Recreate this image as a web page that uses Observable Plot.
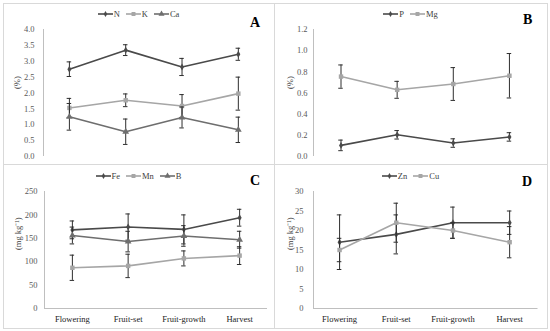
<!DOCTYPE html>
<html><head><meta charset="utf-8">
<script src="https://cdn.jsdelivr.net/npm/d3@7"></script>
<script src="https://cdn.jsdelivr.net/npm/@observablehq/plot@0.6"></script>
<style>
body{margin:0;background:#fff;}
#chart{position:relative;width:550px;height:331px;font-family:"Liberation Serif","Times New Roman",serif;background:#fff;overflow:hidden;}
.box{position:absolute;border:1px solid #d9d9d9;box-sizing:border-box;}
.panel{position:absolute;}
.panel text{font-family:"Liberation Serif","Times New Roman",serif !important;}
.letter{position:absolute;font-weight:bold;font-size:14px;line-height:14px;color:#000;}
.legend{position:absolute;display:flex;justify-content:center;align-items:center;font-size:8.5px;color:#404040;height:10px;}
.legend .item{display:flex;align-items:center;margin:0 3px;}
.legend svg{display:block;margin-right:1px;}
</style></head><body><div id="chart"></div>
<script>
// ---- data ----
const stages = ["Flowering", "Fruit-set", "Fruit-growth", "Harvest"];

// Panel A (%)
const N  = [2.75, 3.35, 2.82, 3.22];
const N_sd  = [0.23, 0.17, 0.27, 0.19];
const K  = [1.53, 1.77, 1.59, 1.98];
const K_sd  = [0.30, 0.20, 0.36, 0.52];
const Ca = [1.25, 0.78, 1.23, 0.84];
const Ca_sd = [0.42, 0.40, 0.33, 0.40];
const ticksA = [0, 0.5, 1, 1.5, 2, 2.5, 3, 3.5, 4];

// Panel B (%)
const P  = [0.105, 0.205, 0.127, 0.185];
const P_sd  = [0.05, 0.04, 0.04, 0.04];
const Mg = [0.755, 0.63, 0.685, 0.763];
const Mg_sd = [0.11, 0.08, 0.155, 0.21];
const ticksB = [0, 0.2, 0.4, 0.6, 0.8, 1.0, 1.2];

// Panel C (mg kg-1)
const Fe = [168, 174, 169, 194];
const Fe_sd = [19, 28, 31, 18];
const Mn = [87, 91, 107, 113];
const Mn_sd = [27, 25, 16, 19];
const Bo = [156, 143, 155, 147];
const Bo_sd = [18, 22, 22, 18];
const ticksC = [0, 50, 100, 150, 200, 250];

// Panel D (mg kg-1)
const Zn = [17, 19, 22, 22];
const Zn_sd = [7, 5, 4, 3];
const Cu = [15, 22, 20, 17];
const Cu_sd = [3, 5, 2, 4];
const ticksD = [0, 5, 10, 15, 20, 25, 30];

// ---- styles ----
const DARK = "#4a4a4a", MID = "#6e6e6e", LIGHT = "#a6a6a6", ERR = "#2e2e2e";
const FONT = "'Liberation Serif','Times New Roman',serif";

const panels = [
  {letter:"A", left:3, top:3, w:271, h:161, mt:26, mb:8, ml:40, mr:8, xd:[-0.46,3.5], yd:[0,4], ticks:ticksA, fmt:d=>d.toFixed(1), pad:9, xaxis:false,
   ylabel:"(%)", ldx:-26, ldy:-4, letterPos:[250,16], legendTop:9,
   series:[{name:"N",v:N,sd:N_sd,color:DARK,symbol:"diamond",r:2.1},
           {name:"K",v:K,sd:K_sd,color:LIGHT,symbol:"square",r:2.5},
           {name:"Ca",v:Ca,sd:Ca_sd,color:MID,symbol:"triangle",r:2.5}]},
  {letter:"B", left:274, top:3, w:273, h:161, mt:26, mb:8, ml:39, mr:10, xd:[-0.49,3.5], yd:[0,1.2], ticks:ticksB, fmt:d=>d.toFixed(1), pad:6, xaxis:false,
   ylabel:"(%)", ldx:-23, ldy:-4, letterPos:[523,13], legendTop:9,
   series:[{name:"P",v:P,sd:P_sd,color:DARK,symbol:"diamond",r:2.1},
           {name:"Mg",v:Mg,sd:Mg_sd,color:LIGHT,symbol:"square",r:2.5}]},
  {letter:"C", left:3, top:164, w:271, h:164, mt:27, mb:20, ml:41, mr:7, xd:[-0.5,3.5], yd:[0,250], ticks:ticksC, fmt:d=>String(d), pad:7, xaxis:true,
   ylabel:"(mg kg\u207B\u00B9)", ldx:-26, ldy:0, letterPos:[250,174], legendTop:171,
   series:[{name:"Fe",v:Fe,sd:Fe_sd,color:DARK,symbol:"diamond",r:2.1},
           {name:"Mn",v:Mn,sd:Mn_sd,color:LIGHT,symbol:"square",r:2.5},
           {name:"B",v:Bo,sd:Bo_sd,color:MID,symbol:"triangle",r:2.5}]},
  {letter:"D", left:274, top:164, w:273, h:164, mt:27, mb:20, ml:39, mr:9.5, xd:[-0.46,3.5], yd:[0,30], ticks:ticksD, fmt:d=>String(d), pad:10, xaxis:true,
   ylabel:"(mg kg\u207B\u00B9)", ldx:-23, ldy:0, letterPos:[522,175], legendTop:171,
   series:[{name:"Zn",v:Zn,sd:Zn_sd,color:DARK,symbol:"diamond",r:2.1},
           {name:"Cu",v:Cu,sd:Cu_sd,color:LIGHT,symbol:"square",r:2.5}]}
];

const chart = d3.select("#chart");
const symbolMap = {diamond:d3.symbolDiamond, square:d3.symbolSquare, triangle:d3.symbolTriangle};

for (const p of panels) {
  chart.append("div").attr("class","box")
    .style("left", p.left+"px").style("top", p.top+"px")
    .style("width", (p.w+1)+"px").style("height", (p.h+1)+"px");

  const marks = [];
  marks.push(Plot.axisY(p.ticks, {tickSize:0, tickPadding:p.pad, tickFormat:p.fmt, label:null, fill:"#595959", fontSize:8.5, fontFamily:FONT}));
  marks.push(Plot.ruleX([p.xd[0]], {stroke:"#bfbfbf", strokeWidth:1}));
  if (p.xaxis) {
    marks.push(Plot.ruleY([0], {stroke:"#bfbfbf", strokeWidth:1}));
    marks.push(Plot.axisX([0,1,2,3], {tickSize:0, tickPadding:7, tickFormat:i=>stages[i], label:null, fill:"#222", fontSize:8.5, fontFamily:FONT}));
  }
  marks.push(Plot.text([p.ylabel], {frameAnchor:"left", rotate:-90, dx:p.ldx, dy:p.ldy, fill:"#404040", fontSize:8.5, fontFamily:FONT}));

  for (const s of p.series) {
    const rows = stages.map((st,i)=>({i, stage:st, v:s.v[i], lo:s.v[i]-s.sd[i], hi:s.v[i]+s.sd[i]}));
    marks.push(Plot.line(rows, {x:"i", y:"v", stroke:s.color, strokeWidth:1.6}));
    marks.push(Plot.ruleX(rows, {x:"i", y1:"lo", y2:"hi", stroke:ERR, strokeWidth:1}));
    marks.push(Plot.ruleY(rows, {x1:d=>d.i-0.04, x2:d=>d.i+0.04, y:"lo", stroke:ERR, strokeWidth:1}));
    marks.push(Plot.ruleY(rows, {x1:d=>d.i-0.04, x2:d=>d.i+0.04, y:"hi", stroke:ERR, strokeWidth:1}));
    marks.push(Plot.dot(rows, {x:"i", y:"v", symbol:()=>s.symbol, fill:s.color, stroke:"none", r:s.r}));
  }

  const svg = Plot.plot({
    width:p.w, height:p.h,
    marginTop:p.mt, marginBottom:p.mb, marginLeft:p.ml, marginRight:p.mr,
    x:{type:"linear", domain:p.xd, axis:null},
    y:{domain:p.yd, axis:null},
    symbol:{type:"identity"},
    style:{fontFamily:FONT, fontSize:"8.5px", color:"#595959", background:"transparent", overflow:"visible"},
    marks
  });
  chart.append(()=>svg).attr("class","panel").style("left", p.left+"px").style("top", p.top+"px");

  const lg = chart.append("div").attr("class","legend")
    .style("left", p.left+"px").style("top", p.legendTop+"px").style("width", p.w+"px");
  for (const s of p.series) {
    const it = lg.append("div").attr("class","item");
    const sv = it.append("svg").attr("width",15).attr("height",8);
    sv.append("line").attr("x1",0).attr("x2",15).attr("y1",4).attr("y2",4).attr("stroke",s.color).attr("stroke-width",1.6);
    sv.append("path").attr("transform","translate(7.5,4)")
      .attr("d", d3.symbol(symbolMap[s.symbol], s.r*s.r*Math.PI*0.8)()).attr("fill",s.color);
    it.append("span").text(s.name);
  }

  chart.append("div").attr("class","letter").style("left", p.letterPos[0]+"px").style("top", p.letterPos[1]+"px").text(p.letter);
}
</script>
</body></html>
